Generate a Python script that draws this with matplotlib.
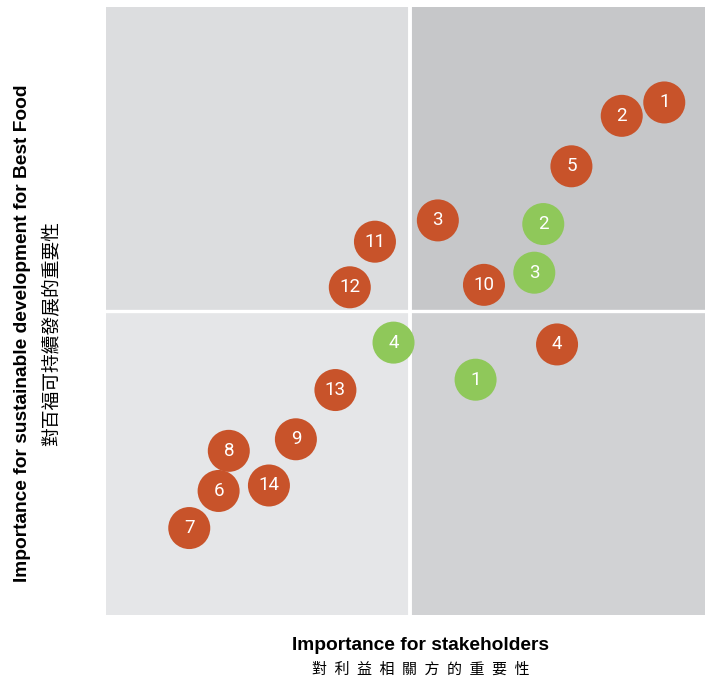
import matplotlib
matplotlib.use('Agg')
import matplotlib.pyplot as plt
from matplotlib.patches import Rectangle

# issues plotted on a 0-10 scale (x: stakeholders, y: Best Food)
red_labels = ['1', '2', '5', '3', '11', '12', '10', '4', '13', '9', '8', '6', '14', '7']
red_x = [9.32, 8.61, 7.77, 5.54, 4.49, 4.07, 6.31, 7.53, 3.83, 3.17, 2.05, 1.88, 2.72, 1.39]
red_y = [8.43, 8.21, 7.38, 6.49, 6.14, 5.39, 5.43, 4.45, 3.70, 2.89, 2.70, 2.04, 2.13, 1.43]

green_labels = ['2', '3', '4', '1']
green_x = [7.30, 7.15, 4.80, 6.17]
green_y = [6.43, 5.63, 4.48, 3.87]

mid_x, mid_y = 5.08, 5.0

fig = plt.figure(figsize=(7.05, 6.82), dpi=100)
ax = fig.add_axes([106 / 705, 67 / 682, 599 / 705, 608 / 682])
ax.set_xlim(0, 10)
ax.set_ylim(0, 10)
ax.axis('off')

# quadrant backgrounds
quads = [
    (0, mid_y, mid_x, 10 - mid_y, '#dcdddf'),
    (mid_x, mid_y, 10 - mid_x, 10 - mid_y, '#c6c7c9'),
    (0, 0, mid_x, mid_y, '#e5e6e8'),
    (mid_x, 0, 10 - mid_x, mid_y, '#d1d2d4'),
]
for x0, y0, w, h, c in quads:
    ax.add_patch(Rectangle((x0, y0), w, h, facecolor=c, edgecolor='none', zorder=0))
ax.axvline(mid_x, color='white', lw=2.8, zorder=1)
ax.axhline(mid_y, color='white', lw=2.4, zorder=1)

ax.scatter(red_x, red_y, s=915, color='#c8532a', edgecolors='none', zorder=3)
ax.scatter(green_x, green_y, s=915, color='#8fc85a', edgecolors='none', zorder=3)

for lab, x, y in zip(red_labels + green_labels, red_x + green_x, red_y + green_y):
    ax.text(x, y, lab, ha='center', va='center', color='white', fontsize=13.5,
            family=['Roboto', 'DejaVu Sans'], weight='normal', zorder=4)

# axis titles
fig.text(421 / 705, 1 - 646 / 682, 'Importance for stakeholders', ha='center', va='center',
         fontsize=13.8, weight='bold', family=['Liberation Sans', 'DejaVu Sans'])
fig.text(421 / 705, 1 - 670 / 682, '\u2002'.join('對利益相關方的重要性'), ha='center', va='center',
         fontsize=10.8, family=['Noto Sans CJK TC', 'DejaVu Sans'])
fig.text(23 / 705, 1 - 333 / 682, 'Importance for sustainable development for Best Food',
         ha='center', va='center', rotation=90, fontsize=13.8, weight='bold',
         family=['Liberation Sans', 'DejaVu Sans'])
fig.text(51 / 705, 1 - 333 / 682, '對百福可持續發展的重要性', ha='center', va='center',
         rotation=90, fontsize=13.5, family=['Noto Sans CJK TC', 'DejaVu Sans'])

fig.savefig('out.png', dpi=100, facecolor='white')
